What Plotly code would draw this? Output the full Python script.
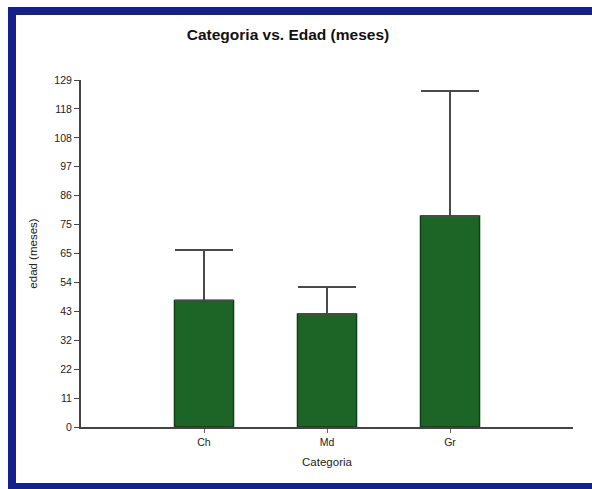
import plotly.graph_objects as go

categories = ["Ch", "Md", "Gr"]
means = [47, 42, 78.4]
err_up = [18.8, 10.0, 46.5]
tick_vals = [0, 10.75, 21.5, 32.25, 43, 53.75, 64.5, 75.25, 86, 96.75, 107.5, 118.25, 129]
tick_text = ["0", "11", "22", "32", "43", "54", "65", "75", "86", "97", "108", "118", "129"]

font_fam = "Liberation Sans, Arial, sans-serif"

fig = go.Figure()
fig.add_trace(go.Bar(
    x=[0, 1, 2], y=means, width=0.48,
    marker=dict(color="#1d6427", line=dict(color="#123f18", width=1.5)),
    error_y=dict(type="data", symmetric=False, array=err_up,
                 arrayminus=[0, 0, 0], color="#4a4a4a", thickness=2, width=29),
))

W, H = 592, 489
ml, mr, mt, mb = 81, 19, 80, 62
pw, ph = W - ml - mr, H - mt - mb

def px2x(px):
    return (px - ml) / pw

def py2y(py):
    return (H - mb - py) / ph

fig.update_layout(
    width=W, height=H,
    margin=dict(l=ml, r=mr, t=mt, b=mb),
    paper_bgcolor="white", plot_bgcolor="white",
    showlegend=False,
    font=dict(family=font_fam, color="#222"),
    title=dict(text="Categoria vs. Edad (meses)", x=288 / W,
               xanchor="center", y=1 - 35 / H, yanchor="middle",
               font=dict(size=15.5, family=font_fam, color="#111", weight="bold")),
    xaxis=dict(range=[-1, 3], tickvals=[0, 1, 2], ticktext=categories,
               showgrid=False, zeroline=False, showline=True, linecolor="#444",
               linewidth=2, ticks="outside", ticklen=4, tickcolor="#666",
               tickfont=dict(size=10.5, color="#222"),
               title=dict(text="Categoria", font=dict(size=11.5, color="#222"), standoff=11)),
    yaxis=dict(range=[0, 129], tickvals=tick_vals, ticktext=tick_text,
               showgrid=False, zeroline=False, showline=True, linecolor="#444",
               linewidth=2, ticks="outside", ticklen=5, tickcolor="#444",
               tickfont=dict(size=10.5, color="#222"),
               title=dict(text="edad (meses)", font=dict(size=11.5, color="#222"), standoff=14)),
    bargap=0.5,
)

frame = "#15208a"
fig.add_shape(type="line", xref="paper", yref="paper",
              x0=px2x(8), x1=px2x(600), y0=py2y(11), y1=py2y(11),
              line=dict(color=frame, width=8))
fig.add_shape(type="line", xref="paper", yref="paper",
              x0=px2x(12), x1=px2x(12), y0=py2y(7), y1=py2y(490),
              line=dict(color=frame, width=8))
fig.add_shape(type="line", xref="paper", yref="paper",
              x0=px2x(8), x1=px2x(600), y0=py2y(487), y1=py2y(487),
              line=dict(color=frame, width=8))

fig.write_html("out.html", config={"displayModeBar": False},
               post_script="document.body.style.margin='0';document.body.style.overflow='hidden';")
